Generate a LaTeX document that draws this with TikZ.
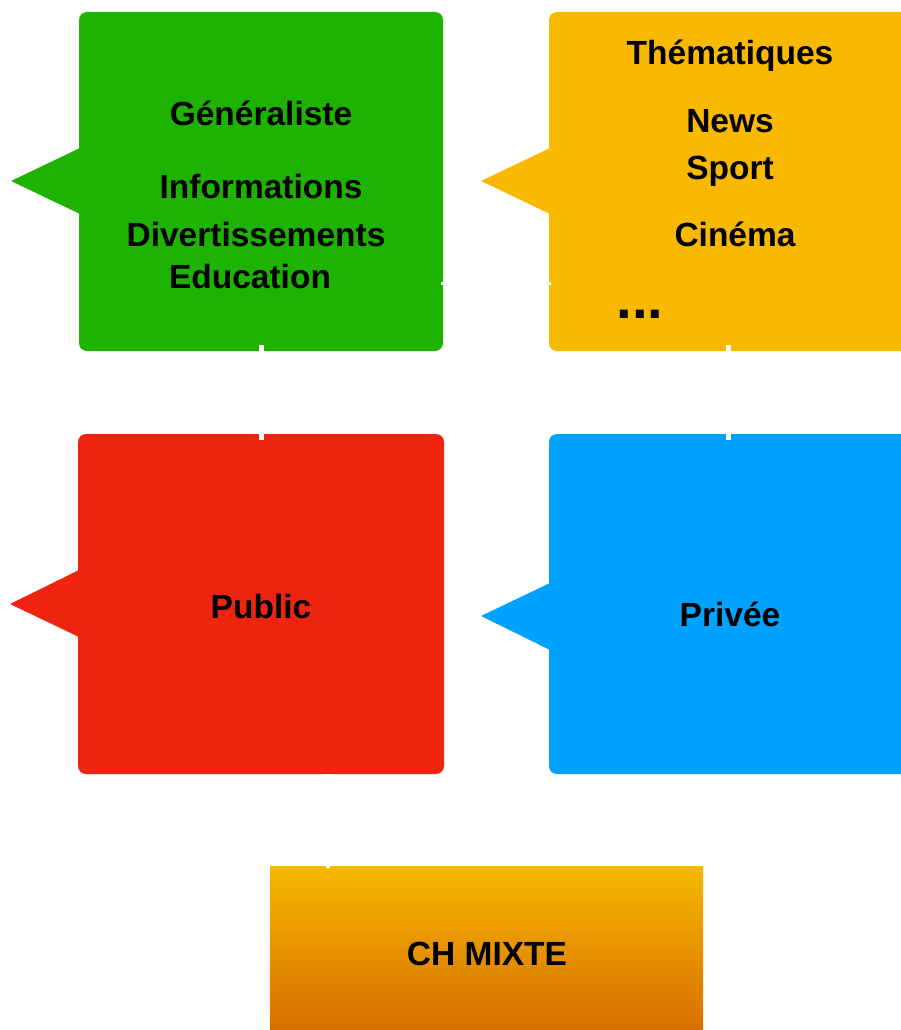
\documentclass[tikz,border=0pt]{standalone}
\usepackage{fontspec}
\setmainfont{Liberation Sans}
\definecolor{cgreen}{HTML}{1DB300}
\definecolor{cyellow}{HTML}{F9B900}
\definecolor{cred}{HTML}{EF2410}
\definecolor{cblue}{HTML}{00A2FF}
\definecolor{ctop}{HTML}{F6B800}
\definecolor{cbot}{HTML}{D66A00}
\tikzset{
  box/.style={draw=none, rounded corners=8pt, inner sep=0pt, outer sep=0pt},
  lbl/.style={anchor=base, inner sep=0pt, font=\fontsize{33.5}{40}\selectfont\bfseries},
  link/.style={draw=white, line width=5pt},
}
\begin{document}
\begin{tikzpicture}[x=1pt,y=-1pt]
\useasboundingbox (0,0) rectangle (901,1030);
\clip (0,0) rectangle (901,1030);
% boxes
\node[box, fill=cgreen, minimum width=364pt, minimum height=339pt] (g) at (261,181.5) {};
\node[box, fill=cyellow, minimum width=366pt, minimum height=339pt] (y) at (732,181.5) {};
\node[box, fill=cred, minimum width=366pt, minimum height=340pt] (r) at (261,604) {};
\node[box, fill=cblue, minimum width=366pt, minimum height=340pt] (b) at (732,604) {};
\node[inner sep=0pt, outer sep=0pt, minimum width=433pt, minimum height=174pt, top color=ctop, bottom color=cbot] (m) at (486.5,953) {};
% callout pointers
\fill[cgreen] (11,181) -- (80,148) -- (80,214) -- cycle;
\fill[cyellow] (481,181) -- (550,148) -- (550,214) -- cycle;
\fill[cred] (10,604) -- (79,570) -- (79,637) -- cycle;
\fill[cblue] (481,616) -- (550,583) -- (550,650) -- cycle;
% connectors (white)
\coordinate (gb) at (261,345);
\coordinate (rt) at (261,440);
\coordinate (gr) at (441,283);
\coordinate (yl) at (551,283);
\coordinate (yb) at (728,345);
\coordinate (bt) at (728,440);
\coordinate (rb) at (328,774);
\coordinate (mt) at (328,868);
\draw[link] (gb) -- (rt);
\draw[link, line width=3pt] (gr) -- (yl);
\draw[link] (yb) -- (bt);
\draw[link, line width=4pt] (rb) -- (mt);
% labels
\node[lbl] (t1) at (261,125) {Généraliste};
\node[lbl] (t2) at (261,198) {Informations};
\node[lbl] (t3) at (256,246) {Divertissements};
\node[lbl] (t4) at (250,288) {Education};
\node[lbl] (t5) at (730,65) {Thématiques};
\node[lbl] (t6) at (730,132) {News};
\node[lbl] (t7) at (730,179) {Sport};
\node[lbl] (t8) at (735,246) {Cinéma};
\node[anchor=base, inner sep=0pt, font=\fontsize{56}{56}\selectfont\bfseries] (t9) at (640,318) {...};
\node[lbl] (t10) at (261,618) {Public};
\node[lbl] (t11) at (730,626) {Privée};
\node[lbl] (t12) at (487,965) {CH MIXTE};
\end{tikzpicture}
\end{document}
